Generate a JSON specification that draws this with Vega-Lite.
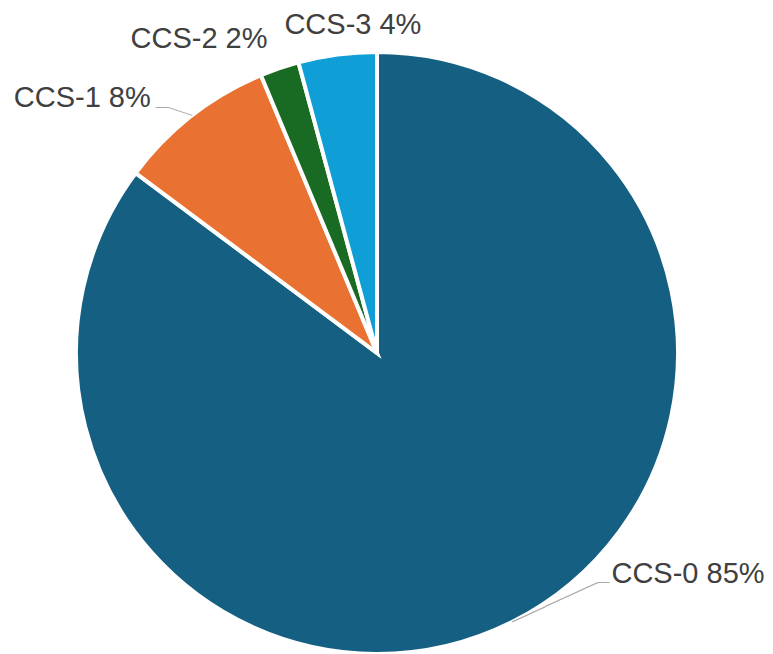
{
  "$schema": "https://vega.github.io/schema/vega-lite/v6.json",
  "width": 754,
  "height": 602,
  "autosize": {"type": "none"},
  "padding": {"left": 0, "top": 52, "right": 19, "bottom": 0},
  "background": "white",
  "config": {"view": {"stroke": null}},
  "data": {
    "values": [
      {"cat": "CCS-0", "share": 85.2, "label": "CCS-0 85%"},
      {"cat": "CCS-1", "share": 8.5, "label": "CCS-1 8%"},
      {"cat": "CCS-2", "share": 2.1, "label": "CCS-2 2%"},
      {"cat": "CCS-3", "share": 4.2, "label": "CCS-3 4%"}
    ]
  },
  "encoding": {
    "theta": {"field": "share", "type": "quantitative", "stack": true},
    "order": {"field": "cat", "type": "ordinal", "sort": "ascending"}
  },
  "layer": [
    {
      "mark": {"type": "arc", "outerRadius": 301, "stroke": "white", "strokeWidth": 4},
      "encoding": {
        "color": {
          "field": "cat",
          "type": "nominal",
          "scale": {"domain": ["CCS-0", "CCS-1", "CCS-2", "CCS-3"], "range": ["#156082", "#E97132", "#196B24", "#0F9ED5"]},
          "legend": null
        }
      }
    },
    {
      "mark": {"type": "text", "radius": 301, "align": "left", "baseline": "middle", "angle": 335.35, "font": "DejaVu Sans Mono", "fontSize": 12, "fill": "#A6A6A6"},
      "encoding": {
        "detail": {"field": "cat", "type": "nominal"},
        "text": {"condition": {"test": "datum.cat === 'CCS-0'", "value": "─────────────"}, "value": ""}
      }
    },
    {
      "mark": {"type": "text", "radius": 301, "align": "left", "baseline": "middle", "dx": 85, "dy": -39, "font": "DejaVu Sans Mono", "fontSize": 10.4, "fill": "#A6A6A6"},
      "encoding": {
        "detail": {"field": "cat", "type": "nominal"},
        "text": {"condition": {"test": "datum.cat === 'CCS-0'", "value": "──"}, "value": ""}
      }
    },
    {
      "mark": {"type": "text", "radius": 301, "align": "right", "baseline": "middle", "angle": 18.2, "font": "DejaVu Sans Mono", "fontSize": 10.4, "fill": "#A6A6A6"},
      "encoding": {
        "detail": {"field": "cat", "type": "nominal"},
        "text": {"condition": {"test": "datum.cat === 'CCS-1'", "value": "────"}, "value": ""}
      }
    },
    {
      "mark": {"type": "text", "radius": 301, "align": "right", "baseline": "middle", "dx": -23.7, "dy": -7.8, "font": "DejaVu Sans Mono", "fontSize": 10.4, "fill": "#A6A6A6"},
      "encoding": {
        "detail": {"field": "cat", "type": "nominal"},
        "text": {"condition": {"test": "datum.cat === 'CCS-1'", "value": "──"}, "value": ""}
      }
    },
    {
      "mark": {"type": "text", "radius": 301, "align": "left", "baseline": "alphabetic", "dx": 99.5, "dy": -39, "font": "Liberation Sans", "fontSize": 29, "fill": "#404040"},
      "encoding": {
        "detail": {"field": "cat", "type": "nominal"},
        "text": {"condition": {"test": "datum.cat === 'CCS-0'", "field": "label"}, "value": ""}
      }
    },
    {
      "mark": {"type": "text", "radius": 301, "align": "right", "baseline": "alphabetic", "dx": -41, "dy": -9, "font": "Liberation Sans", "fontSize": 29, "fill": "#404040"},
      "encoding": {
        "detail": {"field": "cat", "type": "nominal"},
        "text": {"condition": {"test": "datum.cat === 'CCS-1'", "field": "label"}, "value": ""}
      }
    },
    {
      "mark": {"type": "text", "radius": 301, "align": "left", "baseline": "alphabetic", "dx": -149, "dy": -20, "font": "Liberation Sans", "fontSize": 29, "fill": "#404040"},
      "encoding": {
        "detail": {"field": "cat", "type": "nominal"},
        "text": {"condition": {"test": "datum.cat === 'CCS-2'", "field": "label"}, "value": ""}
      }
    },
    {
      "mark": {"type": "text", "radius": 301, "align": "left", "baseline": "alphabetic", "dx": -53, "dy": -21, "font": "Liberation Sans", "fontSize": 29, "fill": "#404040"},
      "encoding": {
        "detail": {"field": "cat", "type": "nominal"},
        "text": {"condition": {"test": "datum.cat === 'CCS-3'", "field": "label"}, "value": ""}
      }
    }
  ]
}
